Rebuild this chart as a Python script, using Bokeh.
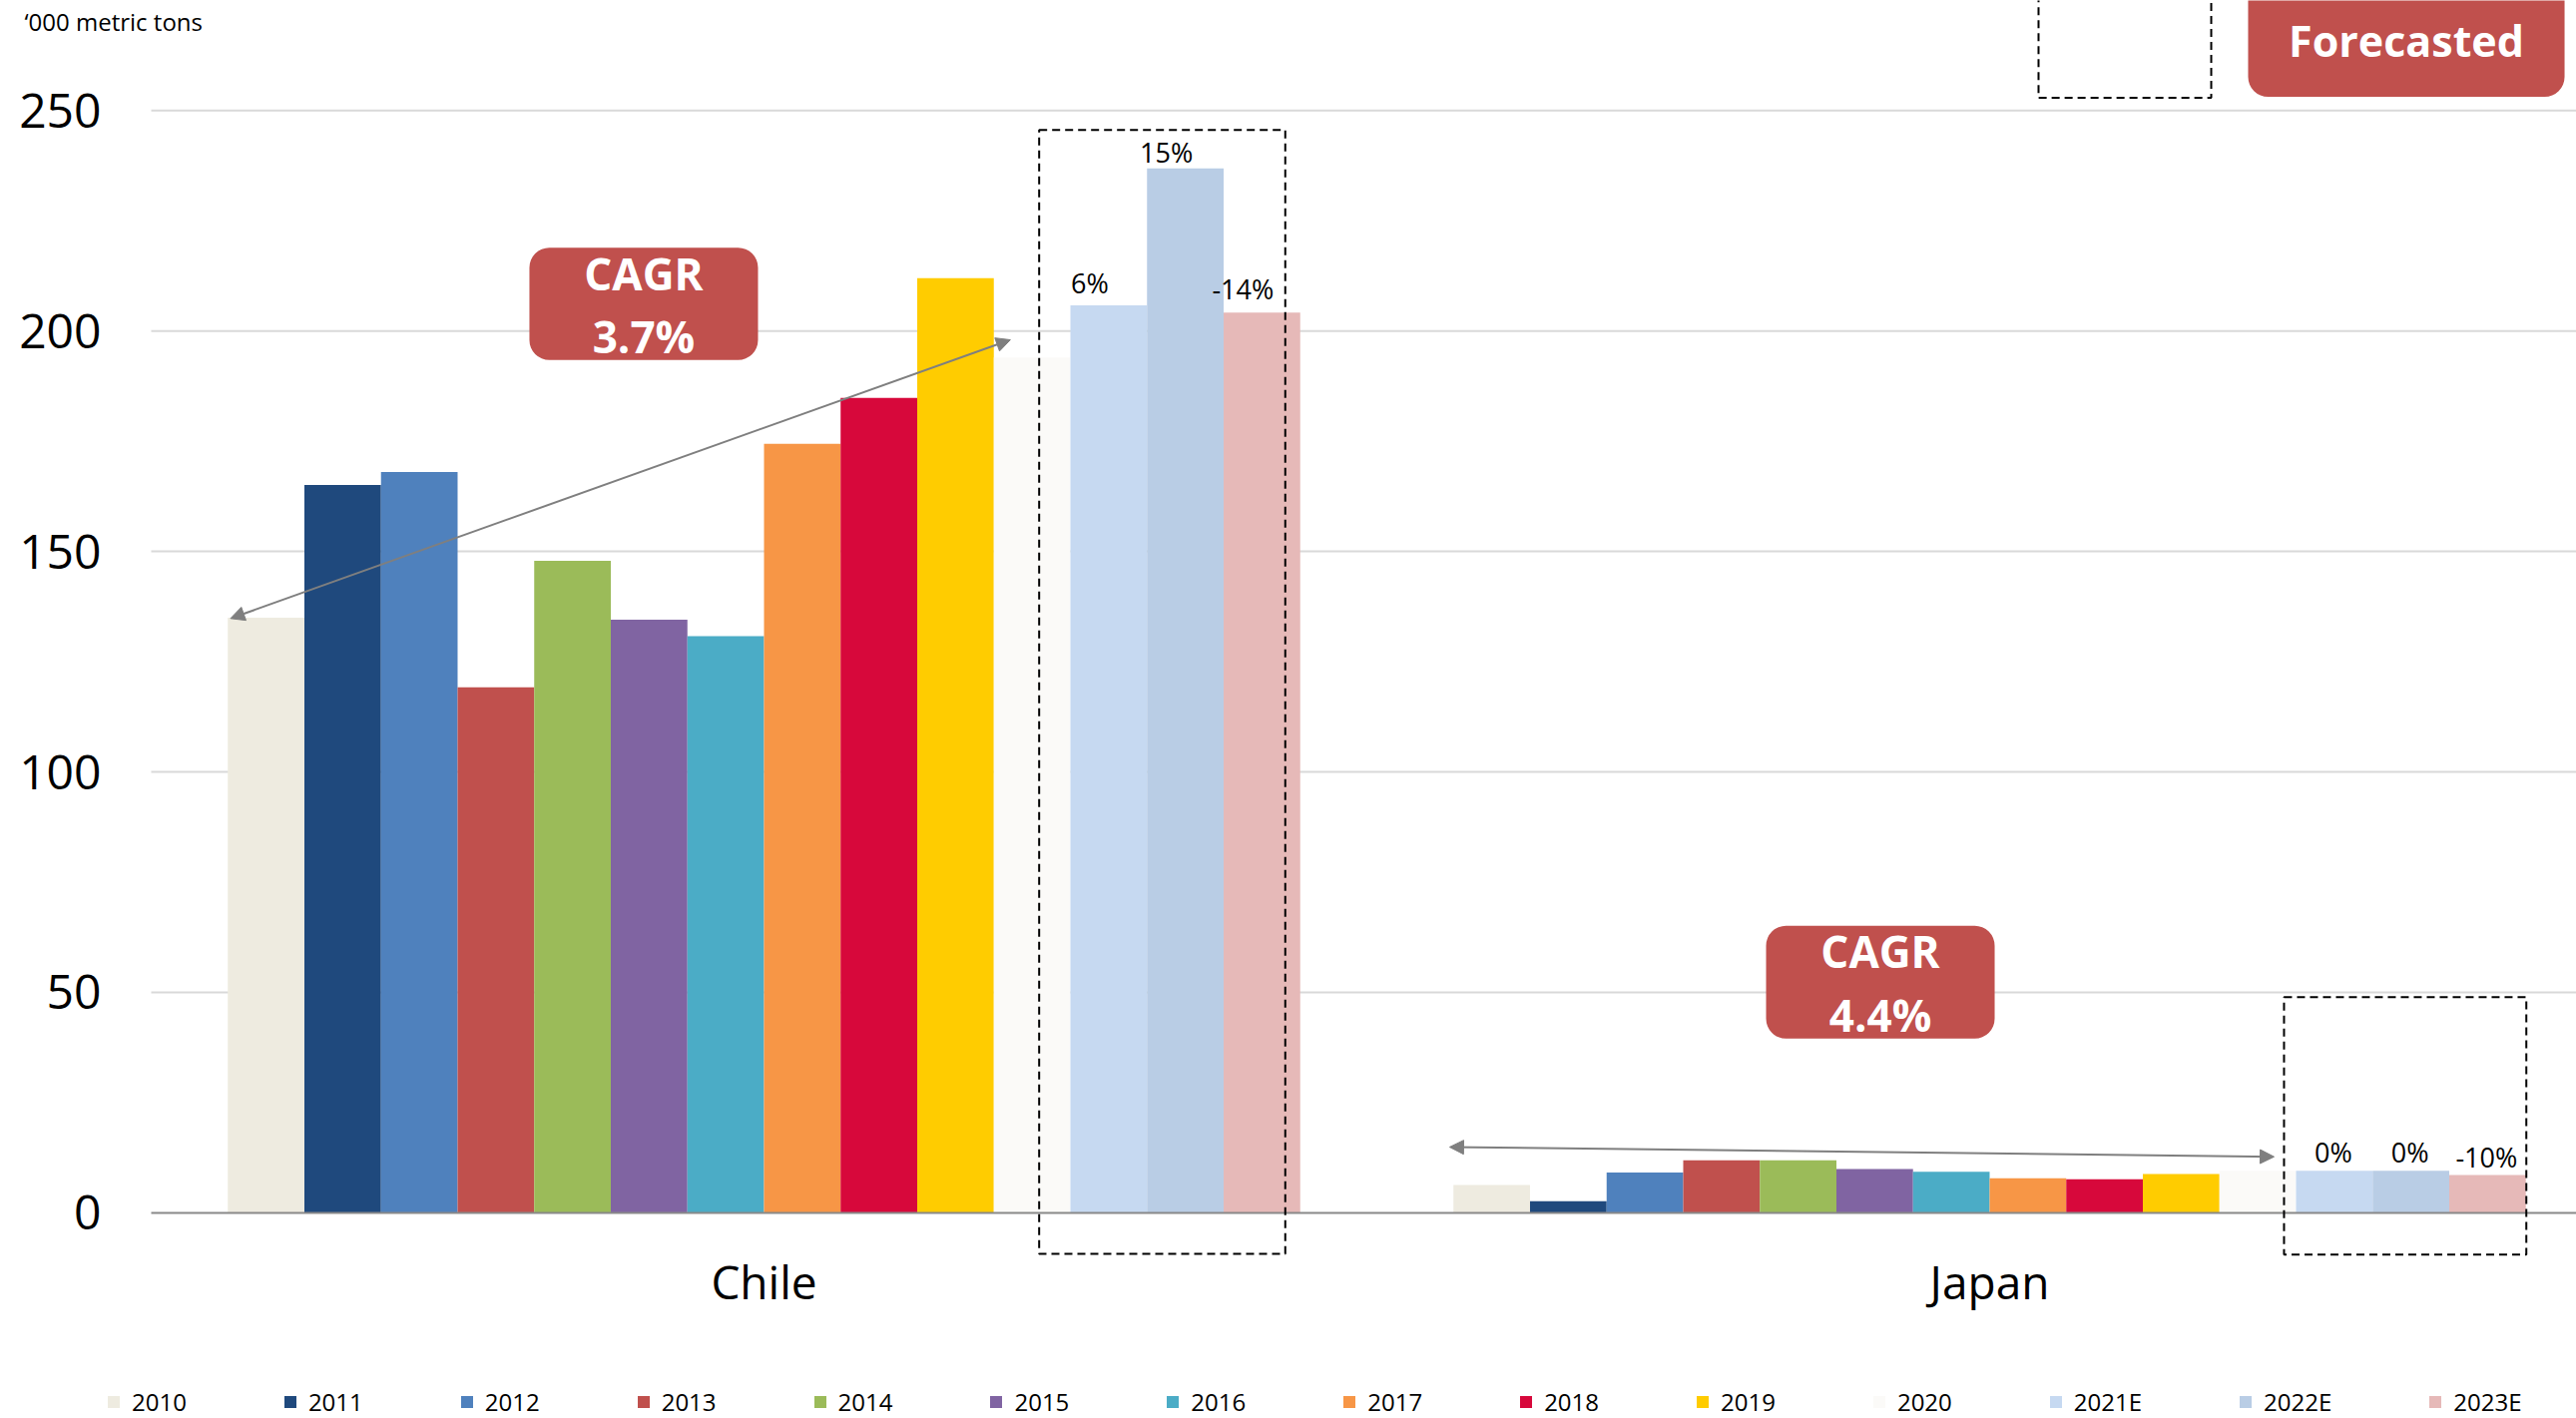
from bokeh.plotting import figure
from bokeh.models import (ColumnDataSource, BoxAnnotation, Label, Arrow, NormalHead,
                          Legend, LegendItem, FixedTicker)
from bokeh.core.properties import value
from bokeh.embed import file_html
from bokeh.resources import INLINE

# ---------------- data ----------------
countries = ["Chile", "Japan"]
years = ["2010", "2011", "2012", "2013", "2014", "2015", "2016", "2017", "2018",
         "2019", "2020", "2021E", "2022E", "2023E"]
chile = [135.0, 165.1, 168.0, 119.2, 147.9, 134.5, 130.8, 174.4, 184.8, 212.0,
         194.0, 205.8, 236.9, 204.2]
japan = [6.3, 2.6, 9.1, 11.9, 11.9, 9.9, 9.3, 7.8, 7.6, 8.8, 9.5, 9.5, 9.5, 8.55]
colors = ["#EEEBE0", "#1F497D", "#4F81BD", "#C0504D", "#9BBB59", "#8064A2", "#4BACC6",
          "#F79646", "#D7083B", "#FFCC00", "#FBFAF8", "#C6D9F1", "#B9CDE5", "#E6B9B8"]
chile_growth = ["6%", "15%", "-14%"]
japan_growth = ["0%", "0%", "-10%"]
cagr = ["3.7%", "4.4%"]
y_ticks = [0, 50, 100, 150, 200, 250]
unit_label = "\u2018000 metric tons"
forecast_label = "Forecasted"

FONT = "Open Sans"
RED = "#C0504D"
X_START, X_END = -0.12296, 1.97883

p = figure(width=2581, height=1421, x_range=(X_START, X_END), y_range=(-46.67, 274.97),
           output_backend="svg", toolbar_location=None,
           min_border_left=0, min_border_right=0, min_border_top=0, min_border_bottom=0)
p.outline_line_color = None
p.background_fill_color = "white"
p.border_fill_color = "white"

# y axis (fixed at x = 0 so the page's left margin stays inside the frame)
p.yaxis.fixed_location = 0
p.yaxis.ticker = FixedTicker(ticks=y_ticks)
p.yaxis.axis_line_color = None
p.yaxis.major_tick_line_color = None
p.yaxis.minor_tick_line_color = None
p.yaxis.major_label_text_font = FONT
p.yaxis.major_label_text_font_size = "48px"
p.yaxis.major_label_text_color = "#000000"
p.yaxis.major_label_standoff = 44

centers = [i + 0.5 for i in range(len(countries))]
p.xaxis.fixed_location = 0
p.xaxis.bounds = (0, X_END)
p.xaxis.ticker = FixedTicker(ticks=centers)
p.xaxis.major_label_overrides = {c: n for c, n in zip(centers, countries)}
p.xaxis.axis_line_color = "#898989"
p.xaxis.axis_line_width = 2
p.xaxis.major_tick_line_color = None
p.xaxis.minor_tick_line_color = None
p.xaxis.major_label_text_font = FONT
p.xaxis.major_label_text_font_size = "46px"
p.xaxis.major_label_text_color = "#000000"
p.xaxis.major_label_standoff = 32

p.xgrid.visible = False
p.ygrid.visible = False
# horizontal gridlines starting at the y axis
gy = [t for t in y_ticks if t != 0]
p.segment(x0=[0] * len(gy), x1=[X_END] * len(gy), y0=gy, y1=gy,
          line_color="#D9D9D9", line_width=2, level="underlay")

# bars
n = len(years)
bw = 0.0625
items = []
for i, yr in enumerate(years):
    off = (i - (n - 1) / 2) * bw
    src = ColumnDataSource(dict(x=[c + off for c in centers], top=[chile[i], japan[i]]))
    r = p.vbar(x="x", top="top", bottom=0, width=bw, source=src,
               fill_color=colors[i], line_color=None)
    items.append(LegendItem(label=yr, renderers=[r]))

# growth labels on forecast bars
chile_yoff = [-23, -16, -24]
japan_yoff = [-19, -19, -18]
lx, ly, lt, lo, lyo = [], [], [], [], []
for k, i in enumerate(range(n - 3, n)):
    off = (i - (n - 1) / 2) * bw
    lx += [centers[0] + off, centers[1] + off]
    ly += [chile[i], japan[i]]
    lt += [chile_growth[k], japan_growth[k]]
    lo += [-19, -1]
    lyo += [chile_yoff[k], japan_yoff[k]]
p.text(x="x", y="y", text="t", x_offset="xo", y_offset="yo",
       source=ColumnDataSource(dict(x=lx, y=ly, t=lt, xo=lo, yo=lyo)),
       text_align="center", text_baseline="middle",
       text_font=value(FONT), text_font_size=value("27px"), text_color="#000000")

# dashed forecast boxes
for (l, r_, b, t) in [(0.7245, 0.9253, -9.3, 245.6), (1.7402, 1.9379, -9.5, 48.9),
                      (1.5399, 1.6808, 252.9, 300)]:
    p.add_layout(BoxAnnotation(left=l, right=r_, bottom=b, top=t, fill_color=None,
                               fill_alpha=0, line_color="#000000", line_alpha=1,
                               line_width=2, line_dash="8 5"))

# CAGR boxes
cagr_boxes = [(0.3086, 0.4951, 193.4, 218.9), (1.3176, 1.5041, 39.5, 65.1)]
cagr_mid = [(213.1, 198.8), (59.3, 44.8)]
for (l, r_, b, t), (y1, y2), val in zip(cagr_boxes, cagr_mid, cagr):
    p.add_layout(BoxAnnotation(left=l, right=r_, bottom=b, top=t, fill_color=RED,
                               fill_alpha=1, line_color=None, border_radius=20))
    cx = (l + r_) / 2
    for txt, yy in [("CAGR", y1), (val, y2)]:
        p.add_layout(Label(x=cx, y=yy, text=txt, text_align="center",
                           text_baseline="middle", text_color="white",
                           text_font=FONT, text_font_style="bold",
                           text_font_size="44px"))

# Forecasted box
p.add_layout(BoxAnnotation(left=1.7109, right=1.9691, bottom=253.1, top=300,
                           fill_color=RED, fill_alpha=1, line_color=None,
                           border_radius=20))
p.add_layout(Label(x=(1.7109 + 1.9691) / 2, y=266.0, text=forecast_label,
                   text_align="center", text_baseline="middle", text_color="white",
                   text_font=FONT, text_font_style="bold", text_font_size="43px"))

# CAGR arrows
for (xs, ys, xe, ye) in [(0.0647, 134.8, 0.7010, 198.0), (1.0594, 14.9, 1.7321, 12.7)]:
    p.add_layout(Arrow(x_start=xs, y_start=ys, x_end=xe, y_end=ye,
                       line_color="#7F7F7F", line_width=2,
                       start=NormalHead(size=14, fill_color="#7F7F7F", line_color="#7F7F7F"),
                       end=NormalHead(size=14, fill_color="#7F7F7F", line_color="#7F7F7F")))

# unit label
p.add_layout(Label(x=-0.1034, y=274.06, text=unit_label, text_align="left",
                   text_baseline="top", text_color="#000000", text_font=FONT,
                   text_font_size="24px"))

legend = Legend(items=items, orientation="horizontal", location=(106, 0),
                glyph_width=15, glyph_height=15, label_standoff=11, spacing=96,
                padding=0, margin=0, border_line_color=None, background_fill_alpha=0,
                label_text_font=FONT, label_text_font_size="24px",
                label_text_color="#000000")
p.add_layout(legend, "center")

open("out.html", "w").write(file_html(p, INLINE))
